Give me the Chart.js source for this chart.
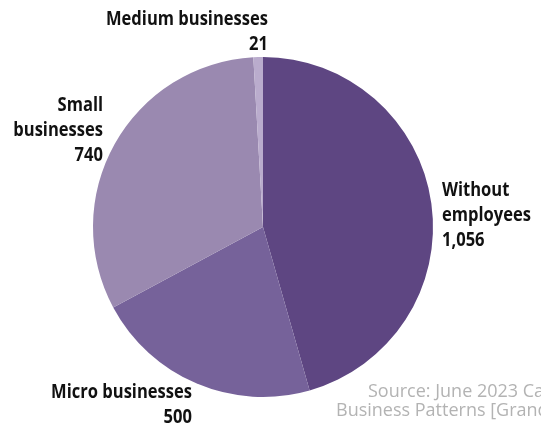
<!DOCTYPE html>
<html>
<head>
<meta charset="utf-8">
<script src="https://cdn.jsdelivr.net/npm/chart.js@4"></script>
<style>
  html, body { margin: 0; padding: 0; background: #fff; overflow: hidden; }
  #wrap { width: 541px; height: 428px; position: relative; }
</style>
</head>
<body>
<div id="wrap"><canvas id="pieChart" width="541" height="428"></canvas></div>
<script>
const categories = ['Without employees', 'Micro businesses', 'Small businesses', 'Medium businesses'];
const counts = [1056, 500, 740, 21];
const sliceColors = ['#5e4682', '#76629a', '#9a89b0', '#baaccd'];

const labelFont = 'bold 20px "Open Sans", sans-serif';

// label text blocks, placed around the pie
const labelBlocks = [
  { lines: ['Without', 'employees', '1,056'], x: 442, y: 190, align: 'left' },
  { lines: ['Micro businesses', '500'], x: 192, y: 392, align: 'right' },
  { lines: ['Small', 'businesses', '740'], x: 103, y: 105, align: 'right' },
  { lines: ['Medium businesses', '21'], x: 268, y: 19, align: 'right' }
];

const pieLabels = {
  id: 'pieLabels',
  afterDraw(chart) {
    const c = chart.ctx;
    c.save();
    c.font = labelFont;
    c.fillStyle = '#111';
    c.textBaseline = 'middle';
    // squeeze the bold text to look like a condensed face
    const sx = 162 / c.measureText('Medium businesses').width;
    labelBlocks.forEach(b => {
      c.textAlign = b.align;
      b.lines.forEach((t, i) => {
        c.save();
        c.translate(b.x, b.y + i * 25);
        c.scale(sx, 1);
        c.fillText(t, 0, 0);
        c.restore();
      });
    });
    c.font = '18px "Open Sans", sans-serif';
    c.fillStyle = '#b3b3b3';
    c.textAlign = 'left';
    c.fillText('Source: June 2023 Canadian', 368, 392);
    c.fillText('Business Patterns [Grande Prairie]', 336, 411);
    c.restore();
  }
};

const ctx = document.getElementById('pieChart').getContext('2d');
new Chart(ctx, {
  type: 'pie',
  data: {
    labels: categories,
    datasets: [{
      data: counts,
      backgroundColor: sliceColors,
      borderWidth: 0
    }]
  },
  options: {
    responsive: false,
    animation: false,
    layout: {
      padding: { left: 93, right: 108, top: 57, bottom: 31 }
    },
    plugins: {
      legend: { display: false },
      tooltip: { enabled: false }
    }
  },
  plugins: [pieLabels]
});
</script>
</body>
</html>
